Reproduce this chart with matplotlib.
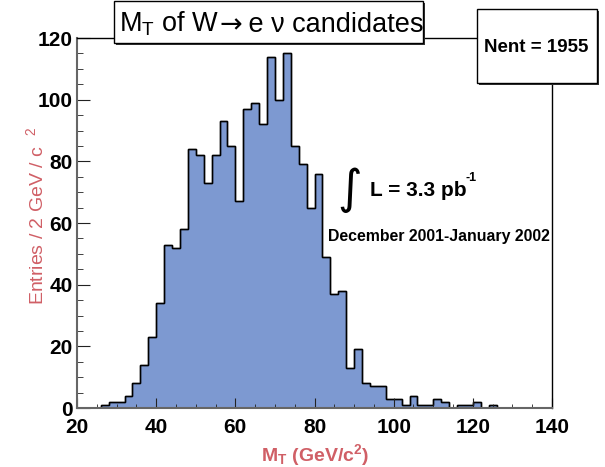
import numpy as np
import matplotlib
matplotlib.use('Agg')
import matplotlib.pyplot as plt
import matplotlib.patches as mpatches
from matplotlib.ticker import MultipleLocator

plt.rcParams['font.family'] = ['Liberation Sans', 'DejaVu Sans']
plt.rcParams['mathtext.fontset'] = 'custom'
plt.rcParams['mathtext.rm'] = 'Liberation Sans'
plt.rcParams['mathtext.it'] = 'Liberation Sans:italic'
plt.rcParams['mathtext.bf'] = 'Liberation Sans:bold'

# transverse mass histogram, 2 GeV bins from 20 to 140
edges = np.arange(20, 142, 2)
counts = [0, 0, 0, 1, 2, 2, 4, 8, 14, 23,
          34, 53, 52, 58, 84, 82, 73, 82, 93, 85,
          67, 97, 99, 92, 114, 100, 115, 85, 79, 65,
          76, 49, 37, 38, 13, 19, 8, 7, 7, 3,
          3, 1, 4, 1, 1, 3, 2, 0, 1, 1,
          2, 0, 1, 0, 0, 0, 0, 0, 0, 0]
nent = 1955

W, H = 605, 467
fx = lambda px: px / W
fy = lambda py: 1 - py / H
red = '#d05f66'

fig = plt.figure(figsize=(6.05, 4.67), dpi=100)
ax = fig.add_axes([fx(77), fy(408), (552 - 77) / W, (408 - 38) / H])
ax.stairs(counts, edges, fill=True, facecolor='#7d99d1', edgecolor='black', lw=1)
ax.stairs(counts, edges, fill=False, color='black', lw=1)
ax.set_xlim(20, 140)
ax.set_ylim(0, 120)

ax.xaxis.set_major_locator(MultipleLocator(20))
ax.xaxis.set_minor_locator(MultipleLocator(5))
ax.yaxis.set_major_locator(MultipleLocator(20))
ax.yaxis.set_minor_locator(MultipleLocator(5))
ax.tick_params(which='both', direction='in', top=False, right=False,
               labelsize=15, color='#222222')
ax.tick_params(axis='x', which='major', length=7, pad=7.5)
ax.tick_params(axis='x', which='minor', length=3)
ax.tick_params(axis='y', which='major', length=9, pad=3)
ax.tick_params(axis='y', which='minor', length=4.5)
for lab in ax.get_xticklabels() + ax.get_yticklabels():
    lab.set_fontweight('bold')
for s in ['left', 'bottom']:
    ax.spines[s].set_color('#666666')
    ax.spines[s].set_linewidth(1.5)
for s in ['top', 'right']:
    ax.spines[s].set_linewidth(1)

fig.text(fx(315), fy(455), r'M$_{\mathbf{T}}$ (GeV/c$^{\mathbf{2}}$)', color=red,
         fontsize=14, fontweight='bold', ha='center', va='center')
fig.text(fx(36), fy(216), r'Entries / 2 GeV / c  $^{2}$', color=red,
         fontsize=14, rotation=90, ha='center', va='center')

# boxes with a dark shadow, like ROOT's TPaveText
def box(x0, y0, x1, y1):
    fig.patches.append(mpatches.Rectangle((fx(x0 + 2), fy(y1 + 2)), (x1 - x0) / W, (y1 - y0) / H,
                                          transform=fig.transFigure, fc='#333333', ec='none'))
    fig.patches.append(mpatches.Rectangle((fx(x0), fy(y1)), (x1 - x0) / W, (y1 - y0) / H,
                                          transform=fig.transFigure, fc='white', ec='black', lw=1))

box(114, 1, 423, 43)
# title in three pieces so the arrow comes from DejaVu Sans (longer glyph)
fig.text(fx(219), fy(32), 'M$_{\\rm T}$ of W', fontsize=19.5, ha='right', va='baseline')
fig.text(fx(219), fy(32), '\u2192', fontsize=19.5, family='DejaVu Sans',
         ha='left', va='baseline')
fig.text(fx(241), fy(32), ' e \u03bd candidates', fontsize=19.5, ha='left', va='baseline')

box(477, 9, 597, 83)
fig.text(fx(536), fy(47), f'Nent = {nent}', fontsize=13.5, fontweight='bold',
         ha='center', va='center')

fig.text(fx(350), fy(190), '\u222b', fontsize=34, family='DejaVu Sans',
         ha='center', va='center')
fig.text(fx(370), fy(190), 'L = 3.3 pb', fontsize=15, fontweight='bold',
         ha='left', va='center')
fig.text(fx(465), fy(178), '-1', fontsize=9, fontweight='bold',
         ha='left', va='center')
fig.text(fx(328), fy(237), 'December 2001-January 2002', fontsize=11.4, fontweight='bold',
         ha='left', va='center')

fig.savefig('out.png', dpi=100)
